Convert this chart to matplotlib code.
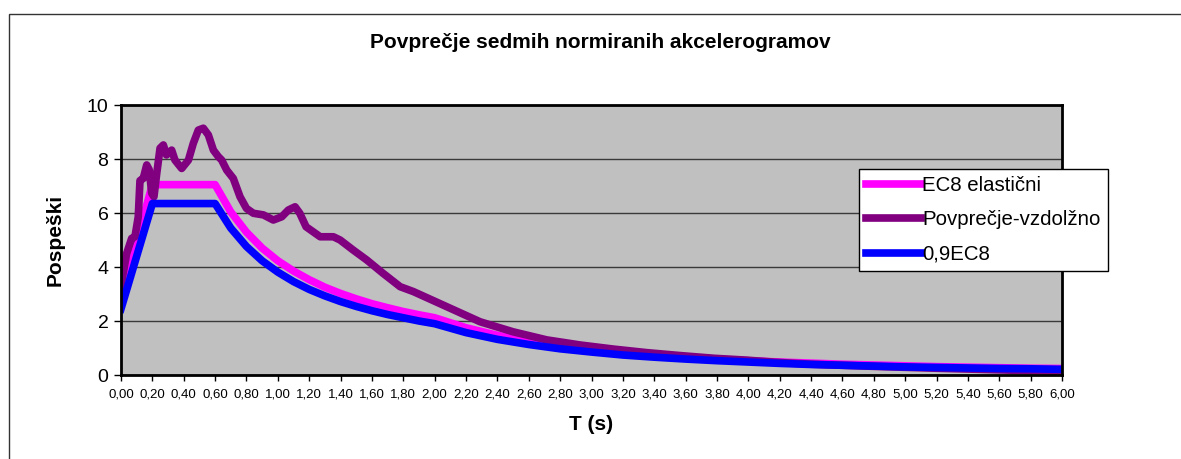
import matplotlib
matplotlib.use('Agg')
import matplotlib.pyplot as plt
from matplotlib import ticker
from matplotlib.patches import Rectangle

# T (s) sample points and spectral accelerations
t_ec8 = [0.0, 0.2, 0.6, 0.7, 0.8, 0.9, 1.0, 1.1, 1.2, 1.3, 1.4, 1.5, 1.6,
         1.7, 1.8, 1.9, 2.0, 2.2, 2.4, 2.6, 2.8, 3.0, 3.2, 3.4, 3.6, 3.8,
         4.0, 4.2, 4.4, 4.6, 4.8, 5.0, 5.2, 5.4, 5.6, 5.8, 6.0]
ec8_elastic = [2.85, 7.05, 7.05, 6.04, 5.29, 4.70, 4.23, 3.85, 3.53, 3.25,
               3.02, 2.82, 2.64, 2.49, 2.35, 2.23, 2.12, 1.75, 1.47, 1.25,
               1.08, 0.94, 0.83, 0.73, 0.65, 0.59, 0.53, 0.48, 0.44, 0.40,
               0.37, 0.34, 0.31, 0.29, 0.27, 0.25, 0.24]
ec8_09 = [2.45, 6.35, 6.35, 5.44, 4.76, 4.23, 3.81, 3.46, 3.17, 2.93, 2.72,
          2.54, 2.38, 2.24, 2.12, 2.00, 1.90, 1.57, 1.32, 1.13, 0.97, 0.85,
          0.74, 0.66, 0.59, 0.53, 0.48, 0.43, 0.39, 0.36, 0.33, 0.30, 0.28,
          0.26, 0.24, 0.23, 0.21]

t_avg = [0.0, 0.036, 0.068, 0.089, 0.11, 0.121, 0.142, 0.164, 0.18, 0.196,
         0.21, 0.228, 0.249, 0.27, 0.29, 0.323, 0.344, 0.387, 0.43, 0.461,
         0.493, 0.525, 0.557, 0.589, 0.62, 0.642, 0.674, 0.716, 0.759, 0.80,
         0.844, 0.908, 0.971, 1.025, 1.067, 1.11, 1.14, 1.18, 1.27, 1.354,
         1.397, 1.48, 1.567, 1.67, 1.78, 1.864, 2.077, 2.29, 2.50, 2.715,
         2.93, 3.14, 3.35, 3.565, 3.78, 3.99, 4.18, 4.4, 4.8, 5.2, 5.6, 6.0]
avg_long = [3.3, 4.5, 5.06, 5.12, 5.86, 7.2, 7.28, 7.78, 7.6, 6.73, 6.6,
            7.47, 8.4, 8.52, 8.15, 8.33, 7.96, 7.65, 7.96, 8.58, 9.07, 9.14,
            8.89, 8.33, 8.09, 7.96, 7.59, 7.28, 6.6, 6.17, 5.99, 5.93, 5.74,
            5.86, 6.11, 6.23, 5.99, 5.49, 5.12, 5.12, 5.0, 4.63, 4.26, 3.77,
            3.27, 3.09, 2.53, 1.97, 1.6, 1.30, 1.11, 0.96, 0.83, 0.72, 0.62,
            0.55, 0.47, 0.40, 0.32, 0.25, 0.19, 0.13]

x_ticks = [i * 0.2 for i in range(31)]
y_ticks = [0, 2, 4, 6, 8, 10]

plt.rcParams['font.family'] = ['Liberation Sans', 'DejaVu Sans']

fig = plt.figure(figsize=(11.81, 4.59), dpi=100)
ax = fig.add_axes([121 / 1181, 1 - 375 / 459, 941 / 1181, 270 / 459])

# outer chart frame (cut off at right and bottom, as in the source)
fig.patches.append(Rectangle((9 / 1181, -0.1), 1.2, 1 - 14 / 459 + 0.1,
                             transform=fig.transFigure, fill=False,
                             edgecolor='#333333', linewidth=1.0))

ax.set_facecolor('#c0c0c0')
ax.grid(axis='y', color='#3a3a3a', linewidth=1.0)
ax.set_axisbelow(True)

ax.plot(t_ec8, ec8_elastic, color='#ff00ff', linewidth=5.5,
        label='EC8 elastični', solid_joinstyle='round')
ax.plot(t_avg, avg_long, color='#800080', linewidth=5.5,
        label='Povprečje-vzdolžno', solid_joinstyle='round')
ax.plot(t_ec8, ec8_09, color='#0000ff', linewidth=5.5,
        label='0,9EC8', solid_joinstyle='round')

ax.set_xlim(0, 6)
ax.set_ylim(0, 10)
ax.set_xticks(x_ticks)
ax.set_yticks(y_ticks)
ax.xaxis.set_major_formatter(
    ticker.FuncFormatter(lambda v, p: f'{v:.2f}'.replace('.', ',')))
ax.tick_params(axis='x', labelsize=9.5, direction='out', length=4,
               width=1, pad=6)
ax.tick_params(axis='y', labelsize=14, direction='out', length=5,
               width=1, pad=4)

for side in ['left', 'bottom', 'top', 'right']:
    ax.spines[side].set_linewidth(2)
    ax.spines[side].set_color('black')

fig.text(600 / 1181, 1 - 42 / 459, 'Povprečje sedmih normiranih akcelerogramov',
         ha='center', va='center', fontsize=15, fontweight='bold')
fig.text(591 / 1181, 1 - 425 / 459, 'T (s)', ha='center', va='center',
         fontsize=15, fontweight='bold')
fig.text(55 / 1181, 1 - 240 / 459, 'Pospeški', ha='center', va='center',
         rotation=90, fontsize=15, fontweight='bold')

leg = ax.legend(loc='upper left', bbox_to_anchor=(859 / 1181, 1 - 169 / 459),
                bbox_transform=fig.transFigure, fontsize=14.7,
                frameon=True, fancybox=False, framealpha=1,
                edgecolor='black', handlelength=2.7, handletextpad=0.05,
                borderpad=0.35, labelspacing=0.75, borderaxespad=0)
leg.get_frame().set_linewidth(1.0)

fig.savefig('out.png', dpi=100)
